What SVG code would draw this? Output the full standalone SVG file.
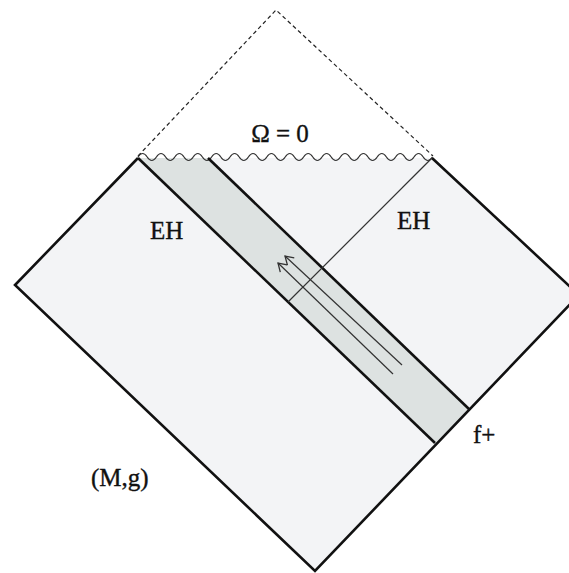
<svg xmlns="http://www.w3.org/2000/svg" width="569" height="573" viewBox="0 0 569 573">
<style>
.lbl{font-family:"Liberation Serif","Times New Roman",serif;font-size:25px;fill:#111;stroke:#111;stroke-width:0.35}
.thick{fill:none;stroke:#111;stroke-width:2.6;stroke-linejoin:miter}
.thin{fill:none;stroke:#333;stroke-width:1.2}
</style>
<defs>
<marker id="open" markerWidth="12" markerHeight="12" refX="10" refY="6" orient="auto" markerUnits="userSpaceOnUse">
<path d="M2,1 L10,6 L2,11" fill="none" stroke="#333" stroke-width="1.3"/>
</marker>
</defs>
<rect width="569" height="573" fill="#fff"/>
<g id="spacetime">
<polygon points="15,285 138,158 432,158 579,295 315,571" fill="#f3f4f6"/>
</g>
<g id="strip">
<polygon points="138,158 208,158 470,410 435,443" fill="#dde2e1"/>
</g>
<g id="horizon-dashed">
<polyline points="138,156 276,10 433,156" fill="none" stroke="#222" stroke-width="1.2" stroke-dasharray="4,3"/>
</g>
<g id="singularity">
<path d="M138,157 q4.6,-7 9.2,0 t9.2,0 t9.2,0 t9.2,0 t9.2,0 t9.2,0 t9.2,0 t9.2,0 t9.2,0 t9.2,0 t9.2,0 t9.2,0 t9.2,0 t9.2,0 t9.2,0 t9.2,0 t9.2,0 t9.2,0 t9.2,0 t9.2,0 t9.2,0 t9.2,0 t9.2,0 t9.2,0 t9.2,0 t9.2,0 t9.2,0 t9.2,0 t9.2,0 t9.2,0 t9.2,0 t9.2,0" fill="none" stroke="#333" stroke-width="1.2"/>
</g>
<g id="connectors">
<polyline class="thick" points="138,158 15,285 315,571 579,295 432,158"/>
<line class="thick" x1="138" y1="158" x2="435" y2="443"/>
<line class="thick" x1="208" y1="158" x2="470" y2="410"/>
<line class="thin" x1="432" y1="158" x2="288" y2="302"/>
<line class="thin" x1="402" y1="365" x2="285" y2="256" marker-end="url(#open)"/>
<line class="thin" x1="393" y1="374" x2="278" y2="263" marker-end="url(#open)"/>
</g>
<g id="labels">
<text class="lbl" x="280" y="142" text-anchor="middle">Ω = 0</text>
<text class="lbl" x="150" y="239">EH</text>
<text class="lbl" x="397" y="229">EH</text>
<text class="lbl" x="473" y="443">f+</text>
<text class="lbl" x="91" y="486">(M,g)</text>
</g>
</svg>
